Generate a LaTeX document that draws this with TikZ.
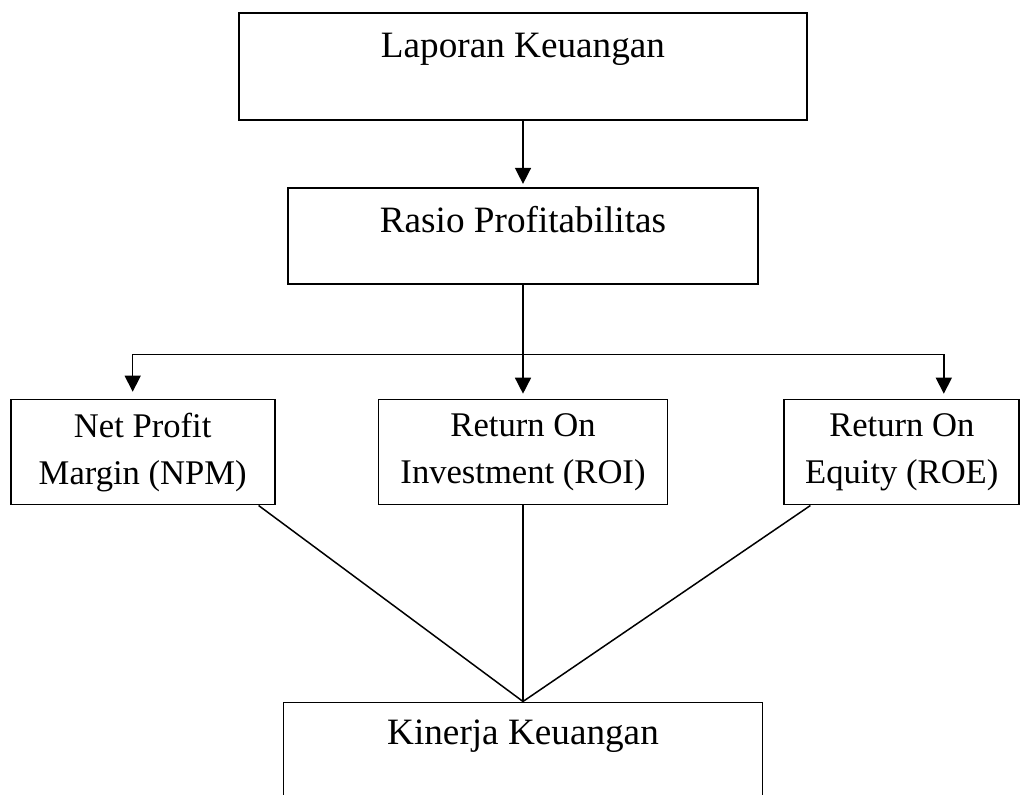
\documentclass[tikz,border=0pt]{standalone}
\usepackage{fontspec}
\setmainfont{Liberation Serif}
\usetikzlibrary{positioning, arrows.meta}

\begin{document}
\begin{tikzpicture}[
  node distance=33pt and 51pt,
  box/.style={draw, line width=0.9pt, rectangle, inner sep=0pt, align=center,
    font=\fontsize{17.3pt}{23.5pt}\selectfont},
  topbox/.style={box, text height=22.5pt, font=\fontsize{18.6pt}{23.5pt}\selectfont},
  pair/.style={box, minimum height=52.5pt},
  flow/.style={-{Triangle[length=8pt, width=8pt]}, line width=0.75pt},
  link/.style={line width=0.75pt}
]
  \useasboundingbox (0,0) rectangle (510.5pt,-397.5pt);

  % source and ratio group
  \node[topbox, minimum width=284pt, text depth=31pt] (lap) at (261.5pt,-33.25pt) {Laporan Keuangan};
  \node[topbox, minimum width=235pt, text depth=25.5pt, below=33pt of lap] (rasio) {Rasio Profitabilitas};

  % the three ratios
  \node[pair, minimum width=144.5pt, below=57pt of rasio] (roi) {Return On\\Investment (ROI)};
  \node[pair, minimum width=132pt, left=51pt of roi] (npm) {Net Profit\\Margin (NPM)};
  \node[pair, minimum width=117.5pt, right=57.5pt of roi] (roe) {Return On\\Equity (ROE)};

  % outcome, cut by the page edge
  \node[topbox, minimum width=239.5pt, text height=21pt, text depth=54pt, below=98pt of roi] (kin) {Kinerja Keuangan};

  \coordinate[below=35pt of rasio] (split);

  \draw[flow, shorten >=1.5pt] (lap) -- (rasio);
  \draw[flow, shorten >=2.5pt] (rasio) -- (roi);
  \draw[flow, shorten >=3.5pt] (split) -| ([xshift=-5pt]npm.north);
  \draw[flow, shorten >=2.5pt] (split) -| ([xshift=21pt]roe.north);

  \draw[link] ([xshift=-8.5pt]npm.south east) -- (kin.north);
  \draw[link] (roi) -- (kin);
  \draw[link] ([xshift=13.5pt]roe.south west) -- (kin.north);
\end{tikzpicture}
\end{document}
